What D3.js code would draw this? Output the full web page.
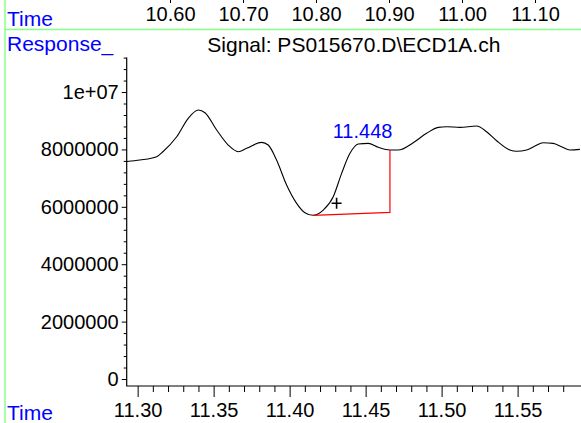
<!DOCTYPE html>
<html>
<head>
<meta charset="utf-8">
<script src="https://cdn.jsdelivr.net/npm/d3@7"></script>
<style>
  body { margin: 0; background: #fff; }
  svg { display: block; font-family: "Liberation Sans", Arial, sans-serif; }
</style>
</head>
<body>
<div id="myPlot"></div>
<script>
// signal trace: retention time (min) and response
const times = [11.2930, 11.3015, 11.3125, 11.3166, 11.3257, 11.3333, 11.3399, 11.3443, 11.3520, 11.3596,
  11.3662, 11.3717, 11.3816, 11.3859, 11.3914, 11.3980, 11.4046, 11.4101, 11.4155, 11.4221,
  11.4287, 11.4342, 11.4397, 11.4451, 11.4517, 11.4583, 11.4660, 11.4714, 11.4813, 11.4901,
  11.4978, 11.5033, 11.5120, 11.5230, 11.5296, 11.5362, 11.5449, 11.5493, 11.5559, 11.5614,
  11.5668, 11.5734, 11.5789, 11.5844, 11.5910];
const response = [7578000, 7630000, 7745000, 7920000, 8442000, 9084000, 9373000, 9279000, 8676000, 8153000,
  7920000, 8038000, 8247000, 8153000, 7631000, 6760000, 6122000, 5794000, 5704000, 5888000,
  6352000, 7167000, 7864000, 8188000, 8212000, 8073000, 7979000, 7979000, 8233000, 8561000,
  8770000, 8791000, 8770000, 8815000, 8617000, 8303000, 7979000, 7934000, 7979000, 8118000,
  8233000, 8212000, 8094000, 7979000, 8003000];

// integration baseline (red) : start, end, then up to the trace
const baseTimes = [11.4155, 11.4660, 11.4660];
const baseResponse = [5704000, 5808000, 7979000];

// peak label and cursor
const peakLabel = "11.448";
const peakLabelPos = [11.448, 8387000];
const cursorPos = [11.4309, 6122000];

// ticks
const yTicks = [0, 2000000, 4000000, 6000000, 8000000, 10000000];
const yTickLabels = ["0", "2000000", "4000000", "6000000", "8000000", "1e+07"];
const yMinorStep = 400000;
const xTicks = [11.30, 11.35, 11.40, 11.45, 11.50, 11.55];
const xTickLabels = ["11.30", "11.35", "11.40", "11.45", "11.50", "11.55"];
const xMinorStep = 0.01;
const topTicks = [10.60, 10.70, 10.80, 10.90, 11.00, 11.10];
const topTickLabels = ["10.60", "10.70", "10.80", "10.90", "11.00", "11.10"];

const title = "Signal: PS015670.D\\ECD1A.ch";

// Set Dimensions
const W = 581;
const H = 423;
const fontSize = 20;
const labelSize = 21;

const svg = d3.select("#myPlot")
  .append("svg")
  .attr("width", W)
  .attr("height", H);

// scales
const x = d3.scaleLinear()
  .domain([11.2928, 11.5917])
  .range([126.7, W]);

const xTop = d3.scaleLinear()
  .domain([10.5407, 11.1630])
  .range([126.7, W]);

const y = d3.scaleLinear()
  .domain([0, 11200000])
  .range([379, 57.6]);

const baseY = y(0) + 7;

// green frame lines on the left and under the upper time row
svg.append("line")
  .attr("x1", 5).attr("x2", 5)
  .attr("y1", 0).attr("y2", H)
  .attr("stroke", "#88ff88").attr("stroke-width", 1.5);
svg.append("line")
  .attr("x1", 5).attr("x2", W)
  .attr("y1", 29.5).attr("y2", 29.5)
  .attr("stroke", "#88ff88").attr("stroke-width", 1.5);

// blue row titles
const blueRows = [["Time", 25.5], ["Response_", 50.5], ["Time", 420]];
svg.append("g")
  .selectAll("text")
  .data(blueRows).enter()
  .append("text")
  .attr("x", 7)
  .attr("y", d => d[1])
  .attr("font-size", labelSize)
  .attr("fill", "#0000ff")
  .text(d => d[0]);

// upper time row (labels of the panel above)
const topAxis = svg.append("g")
  .call(d3.axisBottom(xTop)
    .tickValues(topTicks)
    .tickSize(3)
    .tickFormat((d, i) => topTickLabels[i]));
topAxis.select(".domain").remove();
topAxis.selectAll("text").attr("font-size", fontSize).attr("fill", "#000").attr("dy", 0).attr("y", 21);
topAxis.selectAll("line").attr("stroke", "#000");

// title
svg.append("text")
  .attr("x", (x.range()[0] + x.range()[1]) / 2)
  .attr("y", 51.5)
  .attr("text-anchor", "middle")
  .attr("font-size", labelSize)
  .attr("fill", "#000")
  .text(title);

// axis lines
svg.append("path")
  .attr("d", "M" + x.range()[0] + "," + y.range()[1] + "V" + baseY + "H" + x.range()[1])
  .attr("fill", "none")
  .attr("stroke", "#000")
  .attr("stroke-width", 1.2);

// Y Axis: major and minor ticks
const yMinor = d3.range(0, y.domain()[1] + 1, yMinorStep).filter(v => yTicks.indexOf(v) < 0);
const yMinorAxis = svg.append("g")
  .attr("transform", "translate(" + x.range()[0] + ",0)")
  .call(d3.axisLeft(y).tickValues(yMinor).tickSize(3).tickFormat(""));
yMinorAxis.select(".domain").remove();

const yAxis = svg.append("g")
  .attr("transform", "translate(" + x.range()[0] + ",0)")
  .call(d3.axisLeft(y)
    .tickValues(yTicks)
    .tickSize(5)
    .tickPadding(3)
    .tickFormat((d, i) => yTickLabels[i]));
yAxis.select(".domain").remove();
yAxis.selectAll("text").attr("font-size", fontSize).attr("fill", "#000");

// X Axis: major and minor ticks
const xMinor = d3.range(11.30, 11.585, xMinorStep)
  .filter(t => xTicks.every(m => Math.abs(m - t) > 1e-6));
const xMinorAxis = svg.append("g")
  .attr("transform", "translate(0," + baseY + ")")
  .call(d3.axisBottom(x).tickValues(xMinor).tickSize(6).tickFormat(""));
xMinorAxis.select(".domain").remove();

const xAxis = svg.append("g")
  .attr("transform", "translate(0," + baseY + ")")
  .call(d3.axisBottom(x)
    .tickValues(xTicks)
    .tickSize(11)
    .tickPadding(6)
    .tickFormat((d, i) => xTickLabels[i]));
xAxis.select(".domain").remove();
xAxis.selectAll("text").attr("font-size", fontSize).attr("fill", "#000");

svg.selectAll(".tick line").attr("stroke", "#000");

// signal trace
const trace = times.map((t, i) => [t, response[i]]);
const line = d3.line()
  .x(d => x(d[0]))
  .y(d => y(d[1]))
  .curve(d3.curveMonotoneX);

svg.append("path")
  .datum(trace)
  .attr("d", line)
  .attr("fill", "none")
  .attr("stroke", "#000")
  .attr("stroke-width", 1.1);

// integration baseline
const base = baseTimes.map((t, i) => [t, baseResponse[i]]);
svg.append("path")
  .datum(base)
  .attr("d", d3.line().x(d => x(d[0])).y(d => y(d[1])))
  .attr("fill", "none")
  .attr("stroke", "#ff0000")
  .attr("stroke-width", 1.2);

// peak retention time label
svg.append("text")
  .attr("x", x(peakLabelPos[0]))
  .attr("y", y(peakLabelPos[1]))
  .attr("text-anchor", "middle")
  .attr("font-size", fontSize)
  .attr("fill", "#0000ff")
  .text(peakLabel);

// cursor cross
const cx = x(cursorPos[0]);
const cy = y(cursorPos[1]);
svg.append("path")
  .attr("d", "M" + (cx - 5) + "," + cy + "H" + (cx + 5) + "M" + cx + "," + (cy - 5.5) + "V" + (cy + 5.5))
  .attr("stroke", "#000")
  .attr("stroke-width", 1.6);
</script>
</body>
</html>
